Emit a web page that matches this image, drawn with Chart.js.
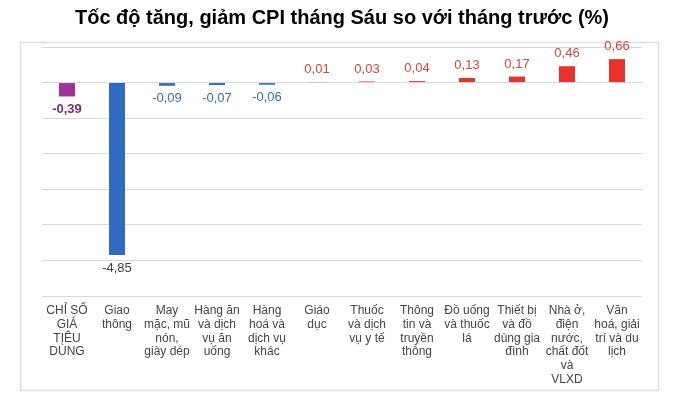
<!DOCTYPE html>
<html>
<head>
<meta charset="utf-8">
<script src="https://cdn.jsdelivr.net/npm/chart.js@4"></script>
<style>
  html, body { margin: 0; padding: 0; background: #fff; }
  #wrap { width: 700px; height: 394px; }
</style>
</head>
<body>
<div id="wrap"><canvas id="cpiChart" width="700" height="394"></canvas></div>
<script>
var categories = [
    ['CHỈ SỐ', 'GIÁ', 'TIÊU', 'DÙNG'],
    ['Giao', 'thông'],
    ['May', 'mặc, mũ', 'nón,', 'giày dép'],
    ['Hàng ăn', 'và dịch', 'vụ ăn', 'uống'],
    ['Hàng', 'hoá và', 'dịch vụ', 'khác'],
    ['Giáo', 'dục'],
    ['Thuốc', 'và dịch', 'vụ y tế'],
    ['Thông', 'tin và', 'truyền', 'thông'],
    ['Đồ uống', 'và thuốc', 'lá'],
    ['Thiết bị', 'và đồ', 'dùng gia', 'đình'],
    ['Nhà ở,', 'điện', 'nước,', 'chất đốt', 'và', 'VLXD'],
    ['Văn', 'hoá, giải', 'trí và du', 'lịch']
];
var values = [-0.39, -4.85, -0.09, -0.07, -0.06, 0.01, 0.03, 0.04, 0.13, 0.17, 0.46, 0.66];
var yTicks = [1, 0, -1, -2, -3, -4, -5, -6];

function barColor(v, i) {
    if (i === 0) return '#9E3596';
    return v < 0 ? '#2F6BC0' : '#E8332B';
}
function labelColor(v, i) {
    if (i === 0) return '#7A2A70';
    if (v < -1) return '#404040';
    return v < 0 ? '#3A6DB2' : '#D8463D';
}
function fmt(v) {
    return v.toFixed(2).replace('.', ',');
}

var frameAndLabels = {
    id: 'frameAndLabels',
    beforeDraw: function(chart) {
        var ctx = chart.ctx;
        ctx.save();
        ctx.strokeStyle = '#DEDEDE';
        ctx.lineWidth = 1.5;
        ctx.strokeRect(20.5, 42.5, 638, 348);
        ctx.restore();
    },
    afterDatasetsDraw: function(chart) {
        var ctx = chart.ctx;
        var meta = chart.getDatasetMeta(0);
        var xScale = chart.scales.x;
        ctx.save();
        ctx.textAlign = 'center';
        ctx.textBaseline = 'middle';
        meta.data.forEach(function(bar, i) {
            var v = values[i];
            ctx.font = (i === 0 ? 'bold ' : '') + '13px "Liberation Sans", Arial, sans-serif';
            ctx.fillStyle = labelColor(v, i);
            var y = v < 0 ? bar.y + 13 : bar.y - 12.5;
            ctx.fillText(fmt(v), bar.x, y);
        });
        // category labels under the plot
        ctx.font = '12px "Liberation Sans", Arial, sans-serif';
        ctx.fillStyle = '#454545';
        categories.forEach(function(lines, i) {
            var x = xScale.getPixelForValue(i);
            lines.forEach(function(line, j) {
                ctx.fillText(line, x, 311 + j * 13.7);
            });
        });
        ctx.restore();
    }
};

var ctx = document.getElementById('cpiChart').getContext('2d');
var cpiChart = new Chart(ctx, {
    type: 'bar',
    data: {
        labels: categories.map(function(c) { return c.join(' '); }),
        datasets: [{
            data: values,
            backgroundColor: values.map(barColor),
            borderWidth: 0,
            categoryPercentage: 0.8,
            barPercentage: 0.4
        }]
    },
    options: {
        responsive: false,
        animation: false,
        layout: {
            padding: { left: 42, right: 58, top: 0, bottom: 98 }
        },
        scales: {
            x: {
                display: false
            },
            y: {
                min: Math.min.apply(null, yTicks),
                max: Math.max.apply(null, yTicks),
                afterBuildTicks: function(scale) {
                    scale.ticks = yTicks.map(function(t) { return { value: t }; });
                },
                ticks: { display: false },
                grid: { color: '#D9D9D9', lineWidth: 1, drawTicks: false },
                border: { display: false }
            }
        },
        plugins: {
            legend: { display: false },
            tooltip: { enabled: false },
            title: {
                display: true,
                text: 'Tốc độ tăng, giảm CPI tháng Sáu so với tháng trước (%)',
                color: '#000000',
                font: { family: '"Liberation Sans", Arial, sans-serif', size: 20, weight: 'bold' },
                padding: { top: 6, bottom: 17 }
            }
        }
    },
    plugins: [frameAndLabels]
});
</script>
</body>
</html>
